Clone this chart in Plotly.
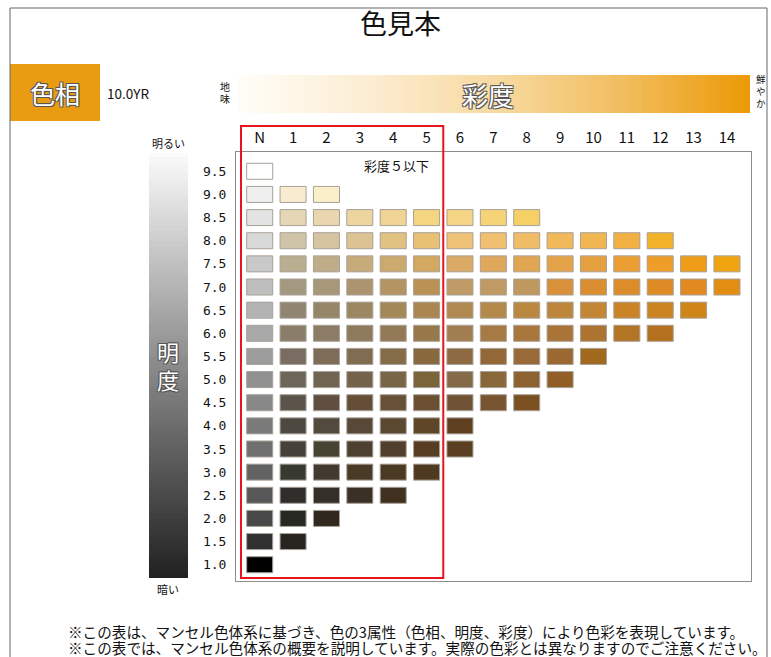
import plotly.graph_objects as go

# ---------------- data ----------------
chroma_labels = ["N", "1", "2", "3", "4", "5", "6", "7", "8", "9", "10", "11", "12", "13", "14"]
value_labels = ["9.5", "9.0", "8.5", "8.0", "7.5", "7.0", "6.5", "6.0", "5.5", "5.0",
                "4.5", "4.0", "3.5", "3.0", "2.5", "2.0", "1.5", "1.0"]
values = [9.5, 9.0, 8.5, 8.0, 7.5, 7.0, 6.5, 6.0, 5.5, 5.0, 4.5, 4.0, 3.5, 3.0, 2.5, 2.0, 1.5, 1.0]

# swatch colours per value row, chroma N, 1, 2, ...
c95 = ["#FFFFFF"]
c90 = ["#EFEFEF", "#F8EBCF", "#FAEFC8"]
c85 = ["#E3E3E3", "#E5D6B6", "#E9D5AE", "#EDD5A0", "#F0D495", "#F5D680", "#F4D585", "#F5D376", "#F5D064"]
c80 = ["#D8D8D8", "#D0C4A8", "#D6C3A0", "#DCC393", "#E2C282", "#E8C174", "#EEC378", "#F0C070",
       "#F0BD66", "#F1B959", "#F1B552", "#F2B044", "#F2B22A"]
c75 = ["#C9C9C9", "#BAAE91", "#BFAC88", "#C6AB7B", "#CCA96C", "#D3A860", "#DBAA66", "#DFA85C",
       "#E1A652", "#E4A348", "#E7A040", "#EB9E32", "#EE9D28", "#EF9C18", "#F0A510"]
c70 = ["#BEBEBE", "#A39880", "#A69878", "#AC9470", "#B39462", "#BB9253", "#BF9B68", "#BF9A64",
       "#BE985E", "#D8913A", "#DA8E31", "#DC8C29", "#DE8A25", "#E08A20", "#E28E12"]
c65 = ["#B3B3B3", "#8F8571", "#968668", "#9B8860", "#A38858", "#AB8650", "#B08A50", "#B48A4A",
       "#BB8840", "#BE863A", "#C28634", "#CA8426", "#CB8322", "#D08616"]
c60 = ["#A8A8A8", "#8A7D69", "#8C7C66", "#8E7A5C", "#937A56", "#97784A", "#A07E50", "#A67A42",
       "#A9763B", "#AA7436", "#AC7430", "#B27425", "#B4711D"]
c55 = ["#9C9C9C", "#786D60", "#7C6C58", "#806C50", "#846C48", "#88683D", "#8E6A42", "#946736",
       "#996938", "#9B6831", "#A0691E"]
c50 = ["#919191", "#6C655A", "#6F6551", "#74634A", "#786447", "#7C6439", "#846A48", "#896739",
       "#8C6231", "#935E25"]
c45 = ["#888888", "#5A534A", "#604F41", "#644E38", "#665038", "#6A5031", "#705234", "#795430", "#7A5021"]
c40 = ["#7A7A7A", "#4D4840", "#524A3C", "#584838", "#5A4830", "#604629", "#5E4021"]
c35 = ["#707070", "#45403A", "#484434", "#4E4030", "#523E2C", "#573E23", "#5A4021"]
c30 = ["#626262", "#383A30", "#423A30", "#483A27", "#4A3A24", "#4E3A21"]
c25 = ["#575757", "#302E2A", "#343028", "#3A3026", "#403020"]
c20 = ["#494949", "#282822", "#30281E"]
c15 = ["#313131", "#26241F"]
c10 = ["#000000"]
rows = [c95, c90, c85, c80, c75, c70, c65, c60, c55, c50, c45, c40, c35, c30, c25, c20, c15, c10]

title_text = "色見本"
hue_label = "色相"
hue_value = "10.0YR"
footer1 = "※この表は、マンセル色体系に基づき、色の3属性（色相、明度、彩度）により色彩を表現しています。"
footer2 = "※この表では、マンセル色体系の概要を説明しています。実際の色彩とは異なりますのでご注意ください。"

# ---------------- layout helpers ----------------
W, H = 771, 657
def px(x):
    return x / W
def py(y):
    return 1 - y / H

JP = "Noto Sans CJK JP"
SW_H = 0.346   # swatch height in value units
SW_W = 0.78    # swatch width in chroma units

xs, bases, heights, cols = [], [], [], []
for v, row in zip(values, rows):
    for ci, c in enumerate(row):
        xs.append(ci)
        bases.append(v - SW_H / 2)
        heights.append(SW_H)
        cols.append(c)

fig = go.Figure()

# colour swatches
fig.add_trace(go.Bar(
    x=xs, y=heights, base=bases, width=SW_W,
    marker=dict(color=cols, line=dict(color="#A8A098", width=1)),
    hoverinfo="skip", showlegend=False, xaxis="x", yaxis="y"))

# chroma gradient bar
fig.add_trace(go.Heatmap(
    z=[list(range(100))], xaxis="x2", yaxis="y2", showscale=False, hoverinfo="skip",
    colorscale=[[0, "#FFFDF8"], [0.25, "#FCEDD2"], [0.5, "#F7DAA2"], [0.75, "#F1BE60"], [1, "#EC9A08"]]))

# value gradient bar
fig.add_trace(go.Heatmap(
    z=[[i] for i in range(100)], xaxis="x3", yaxis="y3", showscale=False, hoverinfo="skip",
    colorscale=[[0, "#222222"], [0.5, "#8A8A8A"], [1, "#FAFAFA"]]))

shadow = "-1px -1px 0 #555, 1px -1px 0 #555, -1px 1px 0 #555, 1px 1px 0 #555"
small = dict(size=10, color="#111", family=JP)
tiny = dict(size=9.5, color="#111", family=JP)

annotations = [
    dict(text=title_text, x=px(400), y=py(22), font=dict(size=27, color="#111", family=JP)),
    dict(text=hue_label, x=px(55), y=py(93), font=dict(size=25, color="white", family=JP, shadow=shadow)),
    dict(text=hue_value, x=px(105), y=py(93), xanchor="left",
         font=dict(size=13.5, color="#111", family="Liberation Sans Narrow, " + JP)),
    dict(text="地", x=px(225), y=py(86), font=small),
    dict(text="味", x=px(225), y=py(99), font=small),
    dict(text="彩度", x=px(488), y=py(95), font=dict(size=26, color="white", family=JP, shadow=shadow)),
    dict(text="鮮", x=px(761), y=py(79), font=tiny),
    dict(text="や", x=px(761), y=py(91), font=tiny),
    dict(text="か", x=px(761), y=py(103), font=tiny),
    dict(text="明るい", x=px(168), y=py(143), font=dict(size=11, color="#111", family=JP)),
    dict(text="暗い", x=px(168), y=py(589), font=dict(size=11, color="#111", family=JP)),
    dict(text="明", x=px(168), y=py(351), font=dict(size=22, color="white", family=JP, shadow=shadow)),
    dict(text="度", x=px(168), y=py(379), font=dict(size=22, color="white", family=JP, shadow=shadow)),
    dict(text="彩度５以下", x=px(397), y=py(165), font=dict(size=13, color="#111", family=JP)),
    dict(text=footer1, x=px(66), y=py(631), xanchor="left", font=dict(size=14.6, color="#111", family=JP)),
    dict(text=footer2, x=px(66), y=py(647.5), xanchor="left", font=dict(size=14.6, color="#111", family=JP)),
]
for a in annotations:
    a.update(xref="paper", yref="paper", showarrow=False)
    a.setdefault("xanchor", "center")
    a.setdefault("yanchor", "middle")

shapes = [
    # page frame
    dict(type="path", xref="paper", yref="paper",
         path=f"M {px(10)},{py(700)} L {px(10)},{py(8)} L {px(767)},{py(8)} L {px(767)},{py(700)}",
         line=dict(color="#666", width=1)),
    # hue box
    dict(type="rect", xref="paper", yref="paper", x0=px(10), x1=px(100), y0=py(121), y1=py(64),
         fillcolor="#E99B12", line=dict(width=0), layer="below"),
    # red highlight (chroma <= 5)
    dict(type="rect", xref="x", yref="paper", x0=-0.56, x1=5.5, y0=py(578), y1=py(126),
         line=dict(color="#E8141C", width=2), layer="above"),
]

fig.update_layout(
    width=W, height=H, margin=dict(l=0, r=0, t=0, b=0),
    paper_bgcolor="white", plot_bgcolor="white",
    barmode="overlay", showlegend=False,
    annotations=annotations, shapes=shapes,
    xaxis=dict(domain=[px(236), px(751)], range=[-0.71, 14.72], side="top",
               tickmode="array", tickvals=list(range(len(chroma_labels))), ticktext=chroma_labels,
               ticks="outside", ticklen=2, tickcolor="rgba(0,0,0,0)",
               tickfont=dict(size=15, color="#111", family="Liberation Sans Narrow, " + JP),
               showgrid=False, zeroline=False, showline=True, mirror=True,
               linecolor="#8C8C8C", linewidth=1, anchor="y", fixedrange=True),
    yaxis=dict(domain=[py(581), py(152)], range=[0.648, 9.917],
               tickmode="array", tickvals=values, ticktext=value_labels,
               ticks="outside", ticklen=6, tickcolor="rgba(0,0,0,0)",
               tickfont=dict(size=13, color="#111", family="DejaVu Sans Mono"),
               showgrid=False, zeroline=False, showline=True, mirror=True,
               linecolor="#8C8C8C", linewidth=1, anchor="x", fixedrange=True),
    xaxis2=dict(domain=[px(238), px(750)], range=[-0.5, 99.5], visible=False, anchor="y2", fixedrange=True),
    yaxis2=dict(domain=[py(113), py(75)], range=[-0.5, 0.5], visible=False, anchor="x2", fixedrange=True),
    xaxis3=dict(domain=[px(149), px(188)], range=[-0.5, 0.5], visible=False, anchor="y3", fixedrange=True),
    yaxis3=dict(domain=[py(578), py(153)], range=[-0.5, 99.5], visible=False, anchor="x3", fixedrange=True),
)

fig.write_html("out.html", config={"displayModeBar": False},
               post_script="document.body.style.margin='0';document.body.style.overflow='hidden';")
